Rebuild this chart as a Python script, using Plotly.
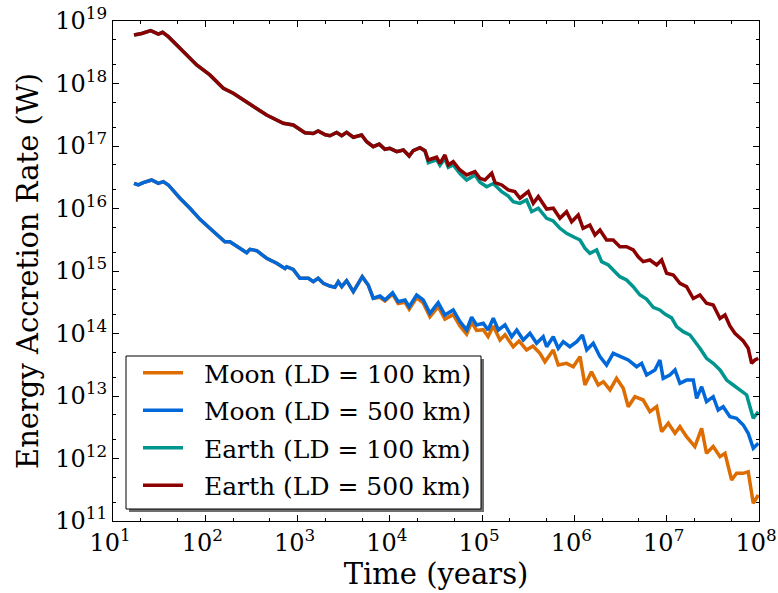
import plotly.graph_objects as go

# ---------------- data ----------------
# Moon curves share their early part (Moon LD=100 km and LD=500 km overlap)
moon_shared_t = [16.9, 18.8, 21.3, 26.2, 31.0, 35.1, 39.8, 53.2, 68.2, 87.7, 112, 144, 163, 185, 219,
                 281, 305, 361, 462, 594, 731, 762, 897, 1060, 1310, 1480, 1670, 1900, 2240, 2540,
                 2760, 3010, 3400, 4020, 4550, 5020, 5830, 6610]
moon_shared_e = [2.53e16, 2.38e16, 2.59e16, 2.86e16, 2.53e16, 2.69e16, 2.38e16, 1.46e16, 1.01e16, 6.71e15,
                 4.82e15, 3.54e15, 2.94e15, 2.94e15, 2.51e15, 1.96e15, 2.22e15, 2.11e15, 1.60e15, 1.33e15,
                 1.10e15, 1.17e15, 1.06e15, 7.64e14, 7.64e14, 6.75e14, 7.64e14, 6.35e14, 5.75e14, 5.48e14,
                 6.75e14, 5.61e14, 7.0e14, 4.67e14, 6.35e14, 8.11e14, 5.97e14, 3.66e14]

moon500_t = [7820, 8850, 10700, 12300, 14600, 16200, 19500, 23000, 27200, 33400, 39500, 48600, 57500,
             67900, 76900, 87100, 103000, 116000, 132000, 150000, 177000, 209000, 237000, 279000,
             330000, 389000, 459000, 500000, 590000, 668000, 757000, 893000, 1.06e6, 1.22e6, 1.36e6,
             1.60e6, 1.89e6, 2.23e6, 2.63e6, 3.24e6, 3.83e6, 4.72e6, 5.35e6, 6.05e6, 7.45e6, 8.43e6,
             9.16e6, 1.08e7, 1.23e7, 1.39e7, 1.64e7, 1.94e7, 2.11e7, 2.39e7, 2.70e7, 3.19e7, 3.61e7,
             4.09e7, 4.84e7, 5.71e7, 6.75e7, 7.64e7, 8.67e7, 9.82e7]
moon500_e = [3.98e14, 3.44e14, 4.5e14, 3.23e14, 3.44e14, 2.69e14, 4.13e14, 3.44e14, 2.10e14, 3.11e14,
             1.98e14, 2.38e14, 1.55e14, 1.14e14, 1.82e14, 1.37e14, 1.46e14, 1.14e14, 1.75e14, 1.14e14,
             1.37e14, 8.89e13, 1.14e14, 7.87e13, 1.01e14, 6.97e13, 8.89e13, 6.15e13, 8.89e13, 5.79e13,
             7.39e13, 6.15e13, 7.39e13, 9.46e13, 5.45e13, 6.97e13, 4.26e13, 3.13e13, 4.82e13, 4.26e13,
             3.77e13, 2.94e13, 3.33e13, 2.17e13, 2.61e13, 3.77e13, 1.92e13, 2.17e13, 2.61e13, 1.60e13,
             1.80e13, 1.80e13, 9.18e12, 1.41e13, 8.11e12, 9.75e12, 5.97e12, 6.75e12, 4.67e12, 4.40e12,
             3.44e12, 2.53e12, 1.46e12, 1.75e12]

moon100_t = [7820, 8850, 10700, 12300, 14600, 16200, 19500, 23000, 27200, 33400, 39500, 48600, 57500,
             67900, 76900, 87100, 103000, 116000, 132000, 156000, 177000, 217000, 251000, 303000,
             355000, 423000, 479000, 590000, 668000, 822000, 971000, 1.15e6, 1.30e6, 1.53e6, 1.81e6,
             2.06e6, 2.43e6, 2.86e6, 3.38e6, 3.83e6, 4.52e6, 5.56e6, 6.58e6, 7.78e6, 8.81e6, 1.04e7,
             1.23e7, 1.39e7, 1.64e7, 2.02e7, 2.39e7, 2.70e7, 3.19e7, 3.78e7, 4.28e7, 5.05e7, 5.71e7,
             6.75e7, 7.64e7, 8.67e7, 9.82e7]
moon100_e = [3.80e14, 3.31e14, 4.27e14, 3.02e14, 3.16e14, 2.45e14, 3.72e14, 3.09e14, 1.86e14, 2.69e14,
             1.70e14, 2.0e14, 1.32e14, 9.77e13, 1.51e14, 1.12e14, 1.15e14, 8.91e13, 1.32e14, 7.87e13,
             9.55e13, 6.15e13, 7.59e13, 5.45e13, 6.31e13, 4.82e13, 3.54e13, 5.45e13, 3.13e13, 3.33e13,
             2.94e13, 4.26e13, 1.50e13, 2.45e13, 1.50e13, 1.69e13, 1.25e13, 1.92e13, 1.33e13, 6.75e12,
             9.75e12, 8.63e12, 5.61e12, 6.75e12, 2.69e12, 3.66e12, 2.53e12, 3.23e12, 2.23e12, 1.55e12,
             3.04e12, 1.21e12, 1.55e12, 1.07e12, 1.21e12, 4.53e11, 5.79e11, 5.79e11, 6.15e11, 1.92e11,
             2.61e11]

# Earth curves share their early part
earth_shared_t = [16.9, 20.5, 25.6, 31.0, 34.5, 39.8, 53.2, 80.7, 112, 157, 201, 258, 331, 462, 700, 897,
                  1200, 1480, 1670, 2000, 2240, 2650, 3010, 3400, 4020, 4940, 5610, 6610, 7670, 8850,
                  10000, 11900, 14000, 16200, 17900, 21200, 24000]
earth_shared_e = [5.97e18, 6.31e18, 7.0e18, 6.17e18, 6.6e18, 5.62e18, 3.66e18, 1.98e18, 1.37e18, 8.4e17,
                  6.97e17, 5.45e17, 4.37e17, 3.13e17, 2.31e17, 2.17e17, 1.63e17, 1.58e17, 1.74e17, 1.51e17,
                  1.46e17, 1.65e17, 1.46e17, 1.65e17, 1.38e17, 1.50e17, 1.17e17, 9.77e16, 1.07e17, 8.85e16,
                  9.18e16, 8.13e16, 8.63e16, 6.92e16, 8.41e16, 9.4e16, 8.41e16]

earth500_t = [26100, 32100, 34900, 39500, 43000, 48600, 57500, 67900, 83600, 94600, 107000, 127000,
              138000, 163000, 192000, 226000, 257000, 316000, 358000, 406000, 500000, 590000, 697000,
              822000, 933000, 1.10e6, 1.24e6, 1.47e6, 1.67e6, 1.89e6, 2.23e6, 2.63e6, 3.11e6, 3.67e6,
              4.34e6, 4.91e6, 5.56e6, 6.58e6, 7.78e6, 8.81e6, 9.98e6, 1.18e7, 1.39e7, 1.64e7, 1.94e7,
              2.29e7, 2.70e7, 3.19e7, 3.78e7, 4.28e7, 4.84e7, 5.48e7, 6.75e7, 7.64e7, 8.32e7, 9.04e7,
              9.82e7]
earth500_e = [5.97e16, 6.61e16, 5.28e16, 7.18e16, 4.97e16, 5.61e16, 4.13e16, 3.44e16, 3.89e16, 3.04e16,
              2.86e16, 3.66e16, 2.59e16, 2.38e16, 1.98e16, 1.86e16, 1.46e16, 1.86e16, 1.21e16, 1.55e16,
              9.8e15, 1.01e16, 6.97e15, 8.89e15, 6.15e15, 7.87e15, 4.82e15, 5.45e15, 3.77e15, 4.53e15,
              3.13e15, 3.13e15, 2.45e15, 2.45e15, 2.17e15, 1.69e15, 1.41e15, 1.50e15, 1.25e15, 1.50e15,
              9.18e14, 8.63e14, 6.35e14, 5.61e14, 3.63e14, 4.13e14, 3.04e14, 2.86e14, 1.74e14, 1.98e14,
              1.32e14, 1.01e14, 7.59e13, 5.79e13, 3.33e13, 3.77e13, 4.01e13]

earth100_t = [26100, 32100, 34900, 39500, 43000, 48600, 57500, 67900, 83600, 94600, 112000, 132000,
              163000, 192000, 217000, 257000, 303000, 344000, 406000, 500000, 590000, 697000, 822000,
              971000, 1.15e6, 1.30e6, 1.47e6, 1.74e6, 1.97e6, 2.33e6, 2.63e6, 3.11e6, 3.67e6, 4.34e6,
              5.13e6, 6.05e6, 7.14e6, 8.43e6, 9.57e6, 1.13e7, 1.28e7, 1.51e7, 1.79e7, 2.11e7, 2.29e7,
              2.70e7, 3.19e7, 3.78e7, 4.46e7, 5.26e7, 6.21e7, 7.35e7, 7.98e7, 8.67e7, 9.82e7]
earth100_e = [5.41e16, 6.03e16, 4.9e16, 6.31e16, 4.57e16, 4.97e16, 3.63e16, 2.86e16, 3.44e16, 2.63e16,
              2.23e16, 2.51e16, 1.86e16, 1.58e16, 1.29e16, 1.21e16, 1.37e16, 8.89e15, 1.01e16, 6.97e15,
              6.31e15, 4.82e15, 4.01e15, 3.54e15, 3.13e15, 2.31e15, 1.92e15, 2.17e15, 1.41e15, 1.25e15,
              1.04e15, 8.11e14, 7.18e14, 5.61e14, 4.13e14, 3.55e14, 2.63e14, 2.38e14, 2.04e14, 1.78e14,
              1.29e14, 1.07e14, 9.46e13, 6.97e13, 5.79e13, 4.01e13, 3.33e13, 2.61e13, 1.80e13, 1.50e13,
              1.25e13, 1.04e13, 6.75e12, 4.40e12, 5.61e12]

series_names = ["Moon (LD = 100 km)", "Moon (LD = 500 km)", "Earth (LD = 100 km)", "Earth (LD = 500 km)"]
series_colors = ["#dd6d00", "#0068d8", "#00968f", "#8b0000"]

x_tickvals = [1e1, 1e2, 1e3, 1e4, 1e5, 1e6, 1e7, 1e8]
x_ticktext = ["10<sup>%d</sup>" % k for k in range(1, 9)]
y_tickvals = [1e11, 1e12, 1e13, 1e14, 1e15, 1e16, 1e17, 1e18, 1e19]
y_ticktext = ["10<sup>%d</sup>" % k for k in range(11, 20)]

# ---------------- figure ----------------
FONT = "DejaVu Serif"
W, H = 778, 593
L, R, T, B = 113, 759, 21, 521

series_t = [moon_shared_t + moon100_t, moon_shared_t + moon500_t,
            earth_shared_t + earth100_t, earth_shared_t + earth500_t]
series_e = [moon_shared_e + moon100_e, moon_shared_e + moon500_e,
            earth_shared_e + earth100_e, earth_shared_e + earth500_e]

fig = go.Figure()
for i, name in enumerate(series_names):
    fig.add_trace(go.Scatter(x=series_t[i], y=series_e[i], mode="lines",
                             name="\u00a0\u00a0" + name,
                             legendgroup="g%d" % i,
                             line=dict(color=series_colors[i], width=3.5)))


def px(xp):
    return (xp - L) / (R - L)


def py(yp):
    return (B - yp) / (B - T)


# legend frame + shadow (matplotlib style)
fig.add_shape(type="rect", xref="paper", yref="paper", layer="above",
              x0=px(129), x1=px(484), y0=py(512), y1=py(359),
              fillcolor="#6e6e6e", line=dict(width=0))
fig.add_shape(type="rect", xref="paper", yref="paper", layer="above",
              x0=px(126), x1=px(481), y0=py(509), y1=py(356),
              fillcolor="white", line=dict(color="black", width=1))

axis_common = dict(type="log", showgrid=False, zeroline=False, showline=True, linecolor="black",
                   linewidth=1.2, mirror="allticks", ticks="inside", ticklen=6, tickwidth=1,
                   tickcolor="black", tickfont=dict(family=FONT, size=24, color="black"),
                   automargin=False, ticklabeloverflow="allow",
                   minor=dict(ticks="inside", ticklen=3, tickwidth=1, tickcolor="black", showgrid=False))

fig.update_layout(
    width=W, height=H,
    margin=dict(l=L, r=W - R, t=T, b=H - B, pad=0),
    paper_bgcolor="white", plot_bgcolor="white",
    font=dict(family=FONT, color="black"),
    showlegend=True,
    legend=dict(x=px(138), y=py(350), xanchor="left", yanchor="top",
                bgcolor="rgba(0,0,0,0)", borderwidth=0,
                font=dict(family=FONT, size=25, color="black"),
                tracegroupgap=2, itemwidth=40),
    xaxis=dict(range=[1, 8], tickvals=x_tickvals, ticktext=x_ticktext, ticklabelshift=-3,
               title=dict(text="Time (years)", font=dict(family=FONT, size=29, color="black"), standoff=6),
               **axis_common),
    yaxis=dict(range=[11, 19], tickvals=y_tickvals, ticktext=y_ticktext,
               title=dict(text="Energy Accretion Rate (W)", font=dict(family=FONT, size=29, color="black"),
                          standoff=8),
               **axis_common),
)

fig.write_html("out.html")
